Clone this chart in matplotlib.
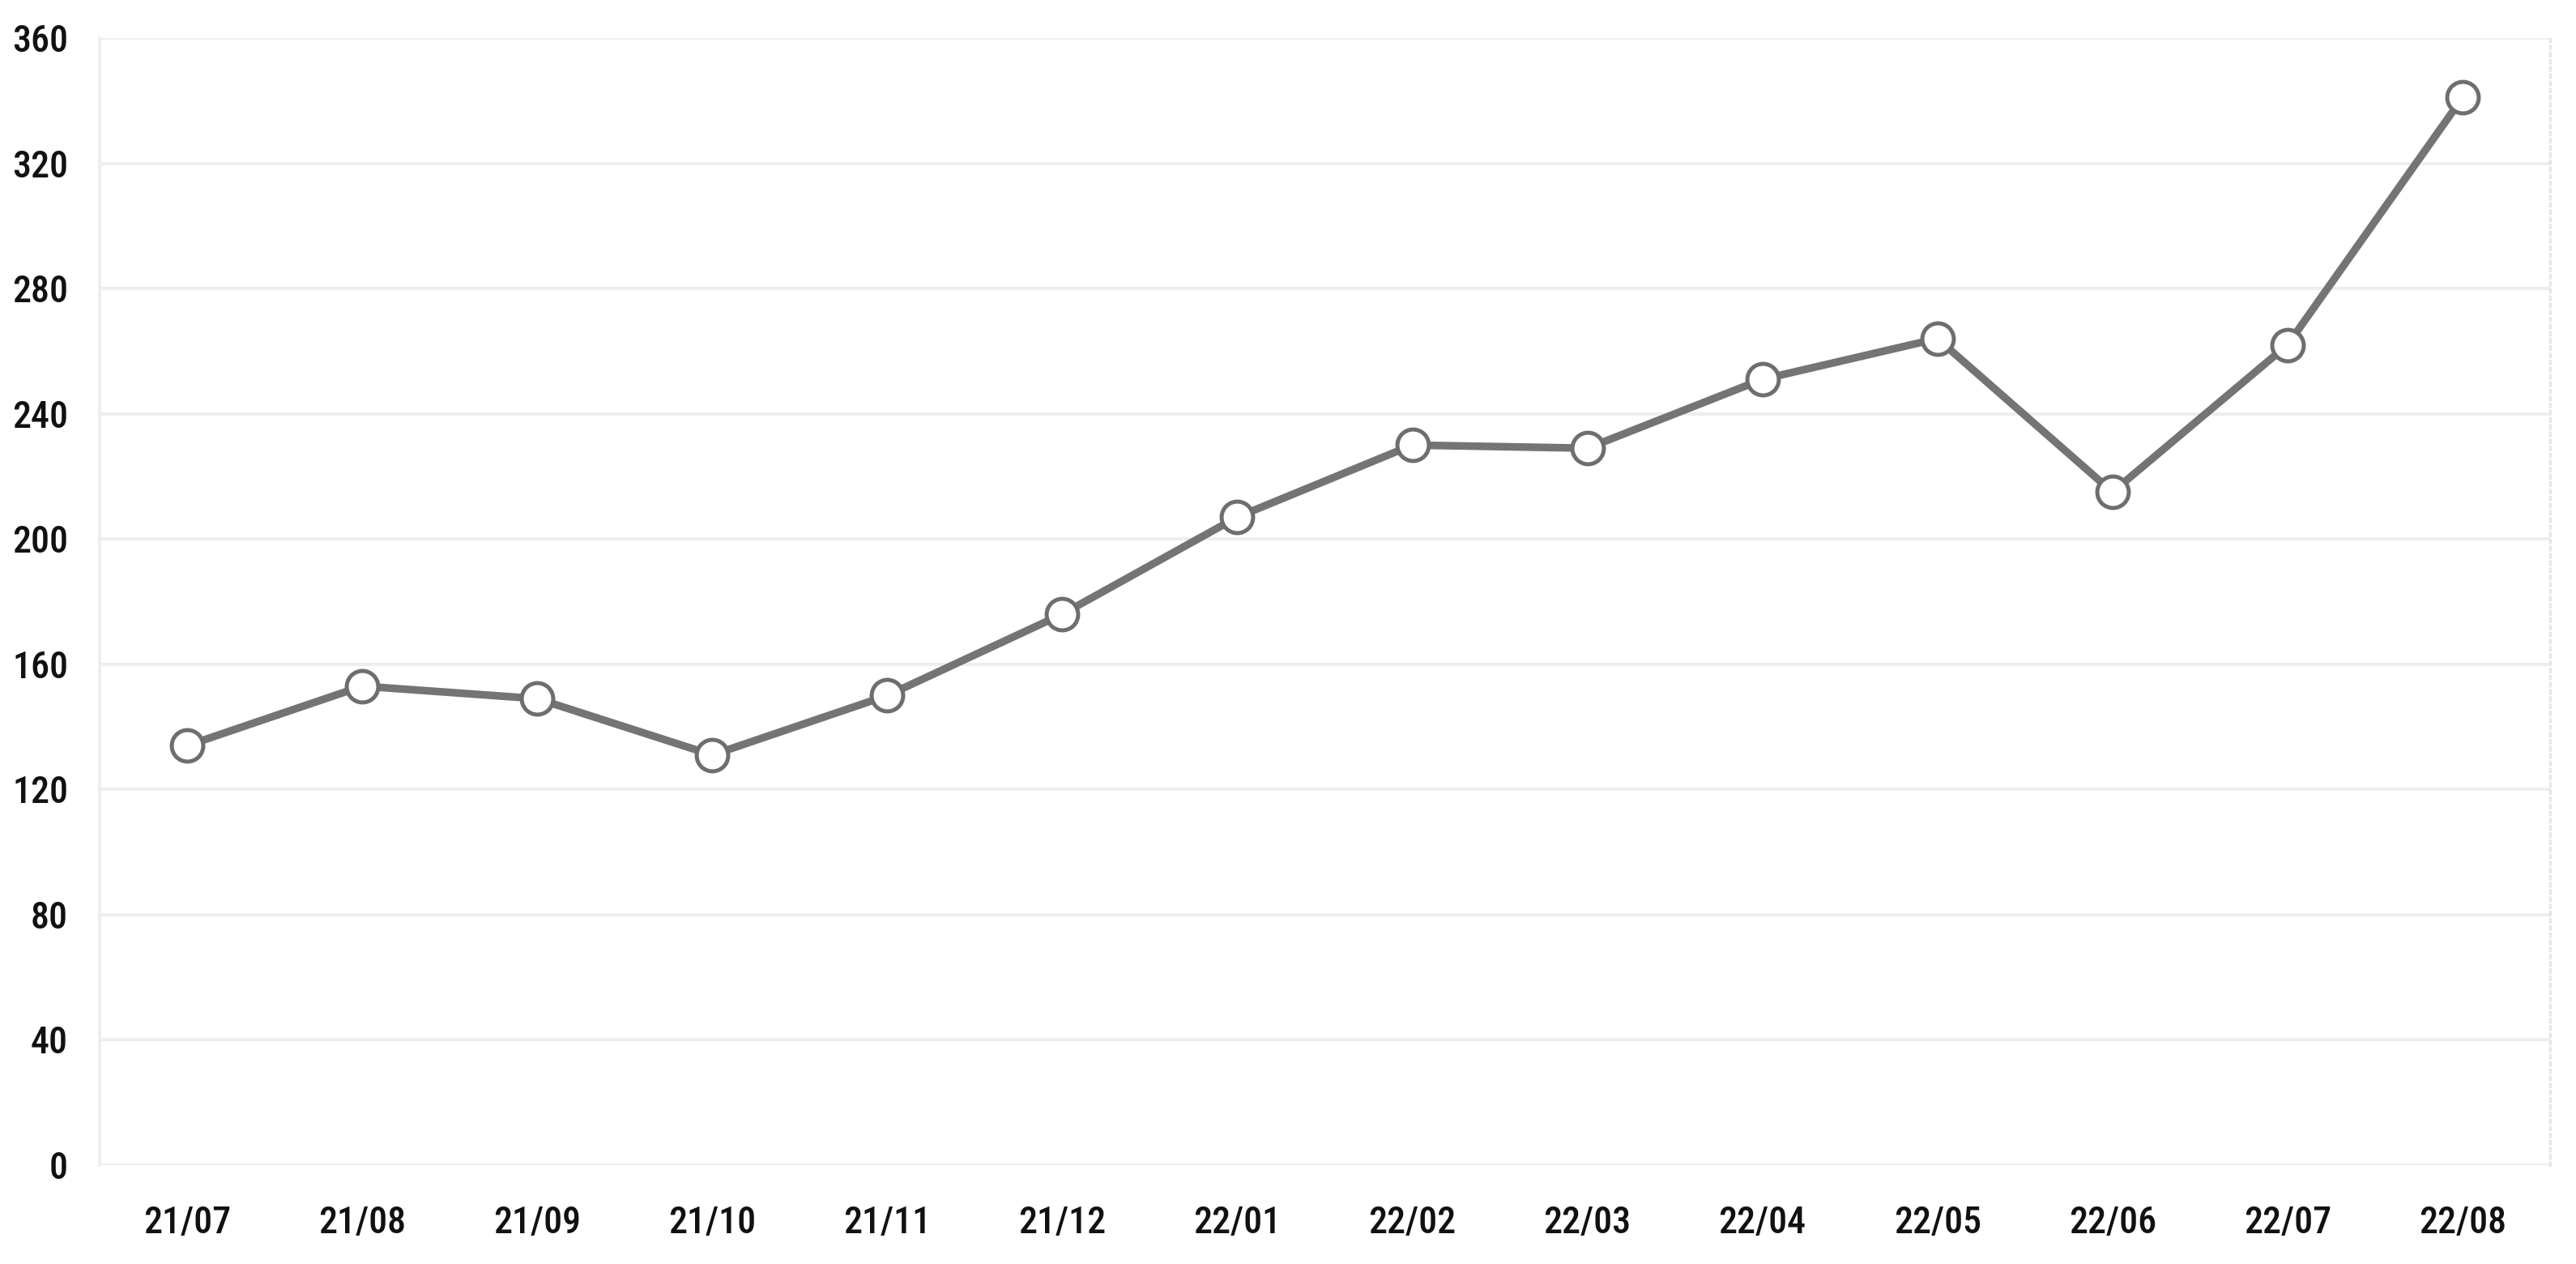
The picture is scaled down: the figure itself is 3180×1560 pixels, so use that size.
import matplotlib
matplotlib.use("Agg")
import matplotlib.pyplot as plt
from matplotlib import font_manager

months = ["21/07", "21/08", "21/09", "21/10", "21/11", "21/12", "22/01",
          "22/02", "22/03", "22/04", "22/05", "22/06", "22/07", "22/08"]
values = [134, 153, 149, 131, 150, 176, 207, 230, 229, 251, 264, 215, 262, 341]
yticks = [0, 40, 80, 120, 160, 200, 240, 280, 320, 360]

names = {f.name for f in font_manager.fontManager.ttflist}
fam = [n for n in ["Liberation Sans Narrow", "Roboto Condensed", "Open Sans Condensed"] if n in names]
plt.rcParams['font.family'] = fam + ['DejaVu Sans']

fig = plt.figure(figsize=(15.9, 7.8), dpi=200)
ax = fig.add_axes([123/3180, 1 - 1438/1560, (3148 - 123)/3180, (1438 - 47)/1560])

x = list(range(len(months)))
ax.plot(x, values, color="#747474", lw=3.4, marker="o", ms=14,
        mfc="white", mec="#6e6e6e", mew=1.8, zorder=3)

ax.set_xlim(-0.5, len(months) - 0.5)
ax.set_ylim(0, 360)
ax.set_yticks(yticks)
ax.set_xticks(x)
ax.set_xticklabels(months)
ax.tick_params(axis="both", length=0, labelsize=16.5, colors="#111111")
ax.tick_params(axis="y", pad=14)
ax.tick_params(axis="x", pad=18)
for lab in ax.get_xticklabels() + ax.get_yticklabels():
    lab.set_fontweight("medium")

ax.grid(axis="y", color="#eeeeee", lw=1.4, zorder=0)
for s in ["top", "bottom"]:
    ax.spines[s].set_visible(False)
ax.spines["left"].set_color("#eeeeee")
ax.spines["left"].set_linewidth(1.4)
ax.spines["right"].set_color("#e6e6e6")
ax.spines["right"].set_linewidth(1.2)
ax.spines["right"].set_linestyle(":")

fig.savefig("out.png", dpi=200, facecolor="white")
